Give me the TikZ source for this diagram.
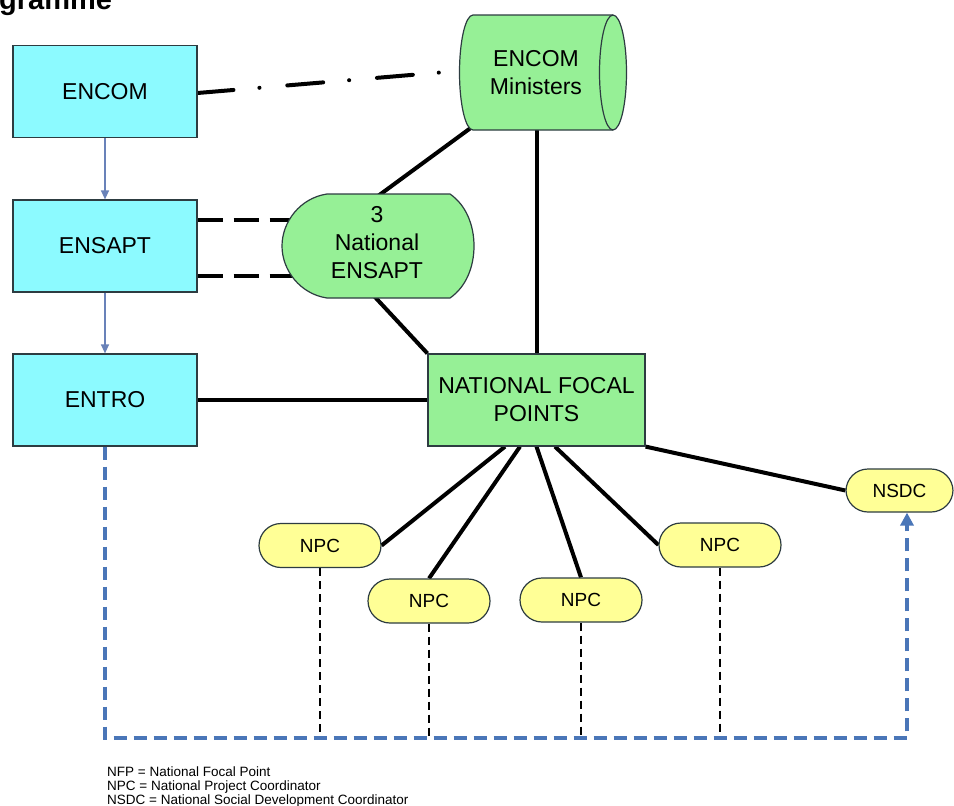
\documentclass[tikz,border=0pt]{standalone}
\usepackage{fontspec}
\setmainfont{Liberation Sans}
\usetikzlibrary{arrows.meta,backgrounds}
\definecolor{boxcyan}{RGB}{140,250,255}
\definecolor{boxgreen}{RGB}{150,240,150}
\definecolor{boxyellow}{RGB}{255,255,150}
\definecolor{edgegray}{RGB}{45,60,65}
\definecolor{linkblue}{RGB}{74,118,184}
\definecolor{arrowblue}{RGB}{105,130,185}
\begin{document}
\begin{tikzpicture}[x=1pt,y=-1pt,
  cyanbox/.style={draw=edgegray, line width=1.2pt, fill=boxcyan, minimum width=184pt, minimum height=92pt, inner sep=0pt, font=\fontsize{23}{28}\selectfont},
  greentext/.style={align=center, inner sep=0pt, font=\fontsize{23}{28}\selectfont},
  greenshape/.style={draw=edgegray, line width=1.2pt, fill=boxgreen},
  greenbox/.style={draw=edgegray, line width=1.2pt, fill=boxgreen, minimum width=217pt, minimum height=92pt, inner sep=0pt, align=center, font=\fontsize{23}{28}\selectfont},
  pill/.style={draw=edgegray, line width=1.2pt, fill=boxyellow, rounded corners=22pt, minimum width=122pt, minimum height=44pt, inner sep=0pt, font=\fontsize{19}{22}\selectfont},
  heavyline/.style={line width=4pt, black},
  dashline/.style={line width=4pt, black, dash pattern=on 25pt off 11pt},
  dotdashline/.style={line width=4pt, black, line cap=round, dash pattern=on 36pt off 26pt on 0.1pt off 27.9pt},
  thinarrow/.style={line width=1.2pt, arrowblue, -{Triangle[length=9pt,width=8pt]}},
  bluedash/.style={line width=3.5pt, linkblue, dash pattern=on 13pt off 7pt},
  thindash/.style={line width=1.4pt, black, dash pattern=on 8pt off 5pt},
  legend/.style={anchor=base west, inner sep=0pt, font=\fontsize{13.5}{15}\selectfont}
]
\useasboundingbox (0,0) rectangle (954,806);

% title (cut off)
\node[anchor=base west, inner sep=0pt, font=\fontsize{29}{34}\selectfont\bfseries] (title) at (-1,9) {gramme};

% left column boxes
\node[cyanbox] (encom) at (105,91.5) {ENCOM};
\node[cyanbox] (ensapt) at (105,246) {ENSAPT};
\node[cyanbox] (entro) at (105,400) {ENTRO};

% ENCOM Ministers cylinder
\path[greenshape] (473,15) -- (613,15) arc[start angle=-90, end angle=90, x radius=13.5, y radius=57.5] -- (473,130) arc[start angle=90, end angle=270, x radius=13.5, y radius=57.5] -- cycle;
\draw[edgegray, line width=1.2pt] (613,15) arc[start angle=270, end angle=90, x radius=13.5, y radius=57.5];
\node[greentext] (mins) at (536,73) {ENCOM\\Ministers};
\coordinate (minsL) at (458,71);
\coordinate (minsBL) at (472,127);
\coordinate (minsB) at (536.5,128);

% 3 National ENSAPT shape
\path[greenshape] (327,194) -- (450,194) .. controls (466,205) and (474,225) .. (474,246) .. controls (474,267) and (466,287) .. (450,298) -- (327,298) .. controls (300,294) and (282,270) .. (282,246) .. controls (282,222) and (300,198) .. (327,194) -- cycle;
\node[greentext] (nens) at (377,243) {3\\National\\ENSAPT};
\coordinate (nensT) at (378,196);
\coordinate (nensB) at (374,296);
\coordinate (nensL1) at (293,220);
\coordinate (nensL2) at (294,276);

% National focal points
\node[greenbox] (nfp) at (536.5,400) {NATIONAL FOCAL\\POINTS};

% NPC / NSDC
\node[pill] (npc1) at (320,545.5) {NPC};
\node[pill] (npc2) at (429,601) {NPC};
\node[pill] (npc3) at (581,600) {NPC};
\node[pill] (npc4) at (720,545) {NPC};
\node[pill, minimum width=107pt, minimum height=43pt] (nsdc) at (899.5,490.5) {NSDC};

% bottom corners of the blue loop
\coordinate (bl) at (105,738);
\coordinate (br) at (907,738);

% legend
\node[legend] (leg1) at (107,776) {NFP = National Focal Point};
\node[legend] (leg2) at (107,790) {NPC = National Project Coordinator};
\node[legend] (leg3) at (107,804) {NSDC = National Social Development Coordinator};

\begin{scope}[on background layer]
  \fill[white] (0,0) rectangle (954,806);
  \draw[dotdashline] ([yshift=-1.5pt]encom.east) -- (minsL);
  \draw[heavyline] (minsBL) -- (nensT);
  \draw[heavyline] (minsB) -- (nfp.north);
  \draw[dashline] ([yshift=26pt]ensapt.east) -- (nensL1);
  \draw[dashline] ([yshift=-30pt]ensapt.east) -- (nensL2);
  \draw[heavyline] (nensB) -- (nfp.north west);
  \draw[heavyline] (entro.east) -- (nfp.west);
  \draw[heavyline] ([xshift=-31.5pt]nfp.south) -- (npc1.east);
  \draw[heavyline] ([xshift=-16.5pt]nfp.south) -- (npc2.north);
  \draw[heavyline] (nfp.south) -- (npc3.north);
  \draw[heavyline] ([xshift=18.5pt]nfp.south) -- (npc4.west);
  \draw[heavyline] (nfp.south east) -- (nsdc.west);
  \draw[thindash] (npc1.south) -- (npc1.south |- br);
  \draw[thindash] (npc2.south) -- (npc2.south |- br);
  \draw[thindash] (npc3.south) -- (npc3.south |- br);
  \draw[thindash] (npc4.south) -- (npc4.south |- br);
\end{scope}

\draw[thinarrow] (encom.south) -- (ensapt.north);
\draw[thinarrow] (ensapt.south) -- (entro.north);
\draw[bluedash, -{Triangle[length=13pt,width=13pt]}] (entro.south) -- (bl) -- (br) -- ([xshift=7.5pt]nsdc.south);
\end{tikzpicture}
\end{document}
